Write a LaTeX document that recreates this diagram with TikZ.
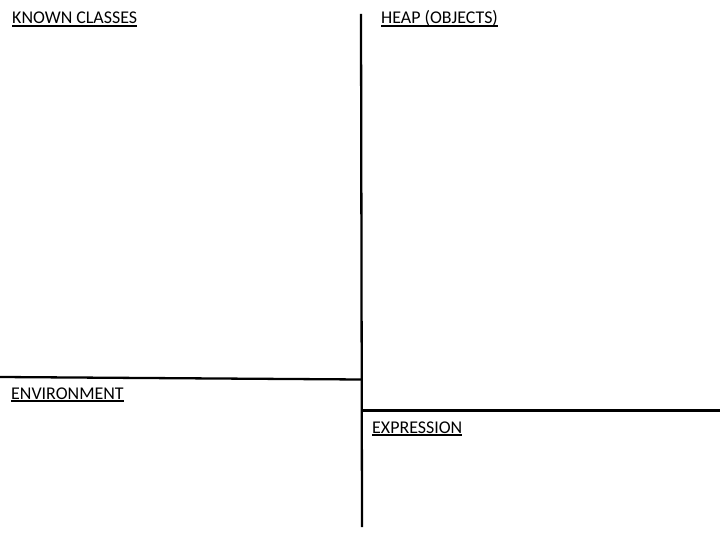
\documentclass[tikz,border=0pt]{standalone}
\usepackage{fontspec}
\setmainfont{Carlito}
\usetikzlibrary{positioning}
\newcommand{\ulined}[1]{\setbox0\hbox{#1}\rlap{\raisebox{-2.8pt}{\rule{\wd0}{2pt}}}\box0}

\begin{document}
\begin{tikzpicture}[x=1bp, y=-1bp,
  heading/.style={anchor=base west, inner sep=0pt, font=\fontsize{18}{20}\selectfont},
  divider/.style={line width=2.3pt}]
  \useasboundingbox (0,0) rectangle (720,540);
  % labels
  \node[heading] (classes) at (12,24) {\ulined{KNOWN CLASSES}};
  \node[heading] (heap) at (381,24) {\ulined{HEAP (OBJECTS)}};
  \node[heading] (env) at (11,399) {\ulined{ENVIRONMENT}};
  \node[heading] (expr) at (372,433) {\ulined{EXPRESSION}};
  % dividing lines
  \coordinate (top) at (361,14);
  \coordinate (bottom) at (362,527);
  \coordinate (leftend) at (0,377);
  \coordinate (leftmid) at (361,379.5);
  \coordinate (rightmid) at (362,410.5);
  \coordinate (rightend) at (720,410.5);
  \draw[divider] (top) -- (bottom);
  \draw[divider] (leftend) -- (leftmid);
  \draw[divider] (rightmid) -- (rightend);
\end{tikzpicture}
\end{document}
